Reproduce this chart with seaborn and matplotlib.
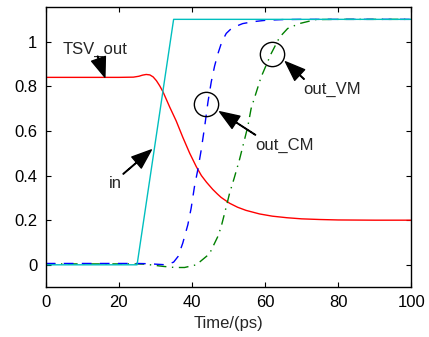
import numpy as np
import pandas as pd
import seaborn as sns
import matplotlib
matplotlib.use("Agg")
import matplotlib.pyplot as plt

# ---- data ----
t_in = [0, 25, 35, 100]
v_in = [0.0, 0.0, 1.1, 1.1]

t_tsv = [0, 20, 24, 25.5, 26.5, 27.5, 28.5, 29.4, 30.3, 31.2, 32.1, 33.9, 35.7, 37.5, 39.4, 41.2,
         42.6, 44, 45.7, 47, 48, 50.3, 52.5, 54.8, 58.5, 62, 66, 70, 75, 80, 90, 100]
v_tsv = [0.84, 0.84, 0.841, 0.845, 0.85, 0.853, 0.851, 0.842, 0.825, 0.802, 0.775, 0.708, 0.645,
         0.572, 0.50, 0.44, 0.40, 0.37, 0.338, 0.317, 0.302, 0.276, 0.258, 0.244, 0.228, 0.218,
         0.211, 0.206, 0.203, 0.201, 0.2, 0.2]

t_cm = [0, 20, 25, 28, 31, 33, 35, 36.2, 37.5, 38.9, 39.8, 40.7, 41.6, 42.5, 43.5, 44.4,
        45.3, 46.2, 47.1, 48.2, 49.4, 51, 53.9, 57, 60.3, 65, 70, 100]
v_cm = [0.006, 0.006, 0.006, 0.005, 0.002, 0.0, 0.012, 0.037, 0.097, 0.18, 0.254, 0.35, 0.425,
        0.51, 0.62, 0.73, 0.82, 0.89, 0.945, 1.0, 1.037, 1.062, 1.081, 1.09, 1.096, 1.099, 1.1, 1.1]

t_vm = [0, 20, 25, 27.1, 32.1, 35.3, 38, 41.2, 44.8, 47.1, 48, 49.4, 50.3, 51.6, 53, 55.3,
        56.2, 58.9, 61.7, 64, 66.2, 69.4, 73.9, 80, 100]
v_vm = [0.004, 0.004, 0.004, 0.003, -0.007, -0.012, -0.012, 0.0, 0.049, 0.127, 0.17, 0.26,
        0.32, 0.39, 0.47, 0.62, 0.70, 0.84, 0.947, 1.02, 1.059, 1.081, 1.099, 1.1, 1.1]

# annotations: label, text position, arrow tail, arrow tip
ann_labels = ["TSV_out", "in", "out_CM", "out_VM"]
ann_text_xy = [(13.5, 0.965), (19.2, 0.365), (65.3, 0.534), (78.3, 0.786)]
ann_tail_xy = [(14.2, 0.935), (21.2, 0.407), (57.4, 0.582), (70.7, 0.832)]
ann_tip_xy = [(16.2, 0.841), (28.9, 0.515), (47.6, 0.686), (65.6, 0.91)]
circle_x = [43.9, 62.0]
circle_y = [0.722, 0.946]

x_ticks = [0, 20, 40, 60, 80, 100]
y_ticks = [0, 0.2, 0.4, 0.6, 0.8, 1.0]
y_tick_labels = ["0", "0.2", "0.4", "0.6", "0.8", "1"]

# ---- style ----
sns.set_style("ticks")
plt.rcParams["font.family"] = ["Liberation Sans", "DejaVu Sans"]
plt.rcParams["font.size"] = 12

fig = plt.figure(figsize=(4.29, 3.37), dpi=100)
ax = fig.add_axes([0.1065, 0.148, 0.852, 0.831])

lw = 1.0
sns.lineplot(x=t_tsv, y=v_tsv, ax=ax, color="#ff0000", lw=lw, sort=False, estimator=None)
sns.lineplot(x=t_vm, y=v_vm, ax=ax, color="#008000", lw=lw, sort=False, estimator=None,
             linestyle=(0, (7, 4, 1, 4)))
sns.lineplot(x=t_cm, y=v_cm, ax=ax, color="#0000ff", lw=lw, sort=False, estimator=None,
             linestyle=(0, (7, 6)))
sns.lineplot(x=t_in, y=v_in, ax=ax, color="#00bfbf", lw=lw, sort=False, estimator=None)

# circles
ax.plot(circle_x, circle_y, linestyle="none", marker="o", markersize=17.5,
        markerfacecolor="none", markeredgecolor="black", markeredgewidth=1.0)

for lab, txy, tail, tip in zip(ann_labels, ann_text_xy, ann_tail_xy, ann_tip_xy):
    ax.text(txy[0], txy[1], lab, ha="center", va="center", fontsize=12)
    ax.annotate("", xy=tip, xytext=tail,
                arrowprops=dict(facecolor="black", edgecolor="black", width=0.4,
                                headwidth=10.5, headlength=14, shrink=0))

ax.set_xlim(0, 100)
ax.set_ylim(-0.1, 1.155)
ax.set_xticks(x_ticks)
ax.set_yticks(y_ticks)
ax.set_yticklabels(y_tick_labels)
ax.set_xlabel("Time/(ps)", fontsize=12, labelpad=4)
ax.tick_params(direction="in", length=3.5, width=0.8, top=True, right=True,
               labelsize=12, pad=6, colors="black")
for s in ax.spines.values():
    s.set_linewidth(1.0)
    s.set_color("black")
    s.set_visible(True)

fig.savefig("out.png", dpi=100)
